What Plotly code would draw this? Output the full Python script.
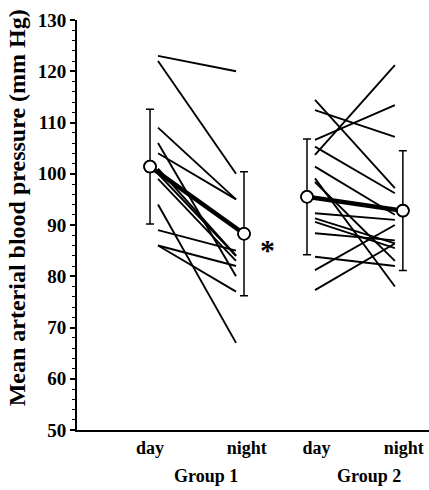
import plotly.graph_objects as go

# ---- data ----
groups = ["Group 1", "Group 2"]
phases = ["day", "night"]

g1_day = [123, 122, 109, 106, 104, 101, 100, 99, 94, 89, 86, 86]
g1_night = [120, 100, 95, 80, 95, 84, 84, 83, 67, 85, 82, 77]

g2_day = [114.4, 112.4, 106.6, 103.7, 105.3, 101.4, 99.1, 98.4, 92.3, 91.3, 90.6, 88.4, 83.8, 81.2, 77.3]
g2_night = [97.2, 107.2, 113.4, 121.2, 96.2, 92.0, 78.0, 83.0, 91.0, 86.4, 85.5, 87.0, 82.0, 90.0, 86.4]

g1_mean = [101.4, 88.3]
g1_sd = [11.2, 12.1]
g2_mean = [95.5, 92.8]
g2_sd = [11.3, 11.7]

y_ticks = [50, 60, 70, 80, 90, 100, 110, 120, 130]

# ---- layout positions (axis units) ----
g1_x = [1.0, 2.0]
g2_x = [2.67, 3.69]
inset = 0.085
tick_pos = [1.0, 2.03, 2.77, 3.70]

fig = go.Figure()

def add_group(xs, day, night, mean, sd):
    xl = [xs[0] + inset, xs[1] - inset]
    for d, n in zip(day, night):
        fig.add_trace(go.Scatter(x=xl, y=[d, n], mode="lines",
                                 line=dict(color="black", width=1.9),
                                 showlegend=False, hoverinfo="skip"))
    fig.add_trace(go.Scatter(x=xs, y=mean, mode="lines",
                             line=dict(color="black", width=4.5),
                             showlegend=False))
    fig.add_trace(go.Scatter(x=xs, y=mean, mode="markers",
                             marker=dict(symbol="circle", size=12, color="white",
                                         line=dict(color="black", width=1.6)),
                             error_y=dict(type="data", array=sd, visible=True,
                                          color="black", thickness=1.5, width=4),
                             showlegend=False))

add_group(g1_x, g1_day, g1_night, g1_mean, g1_sd)
add_group(g2_x, g2_day, g2_night, g2_mean, g2_sd)

for xs, mean in [(g1_x, g1_mean), (g2_x, g2_mean)]:
    fig.add_trace(go.Scatter(x=xs, y=mean, mode="markers",
                             marker=dict(symbol="circle", size=12, color="rgba(255,255,255,0)",
                                         line=dict(color="black", width=1.6)),
                             showlegend=False))

serif = "Liberation Serif"

fig.add_annotation(x=2.255, y=85.3, text="<b>*</b>", showarrow=False,
                   font=dict(family=serif, size=30, color="black"),
                   xanchor="center", yanchor="middle")

fig.add_annotation(x=-0.170, y=0.541, xref="paper", yref="paper",
                   text="<b>Mean arterial blood pressure (mm Hg)</b>",
                   textangle=-90, showarrow=False,
                   font=dict(family=serif, size=24, color="black"),
                   xanchor="center", yanchor="middle")

for gx, name in zip([(tick_pos[0] + tick_pos[1]) / 2 + 0.08, (tick_pos[2] + tick_pos[3]) / 2 + 0.09], groups):
    fig.add_annotation(x=gx, y=-0.112, xref="x", yref="paper", text="<b>" + name + "</b>",
                       showarrow=False, font=dict(family=serif, size=18, color="black"),
                       xanchor="center", yanchor="middle")

fig.update_layout(
    width=429, height=490,
    margin=dict(l=77, r=0, t=20, b=60),
    paper_bgcolor="white", plot_bgcolor="white",
    showlegend=False,
    font=dict(family=serif, color="black"),
    xaxis=dict(range=[0.223, 3.968], showgrid=False, zeroline=False,
               tickvals=tick_pos, ticktext=["<b>%s</b>" % p for p in phases * 2],
               ticks="", tickfont=dict(family=serif, size=18, color="black"),
               showline=True, linecolor="black", linewidth=2),
    yaxis=dict(range=[50, 130], showgrid=False, zeroline=False,
               tickvals=y_ticks, ticktext=["<b>%d</b>" % v for v in y_ticks],
               ticks="outside", ticklen=5, tickwidth=1.5, tickcolor="black",
               tickfont=dict(family=serif, size=19, color="black"),
               showline=True, linecolor="black", linewidth=2,
               minor=dict(dtick=2, ticks="outside", ticklen=3, tickwidth=1, tickcolor="black")),
)

fig.write_html("out.html", config={"displayModeBar": False},
               post_script="document.body.style.margin='0';")
